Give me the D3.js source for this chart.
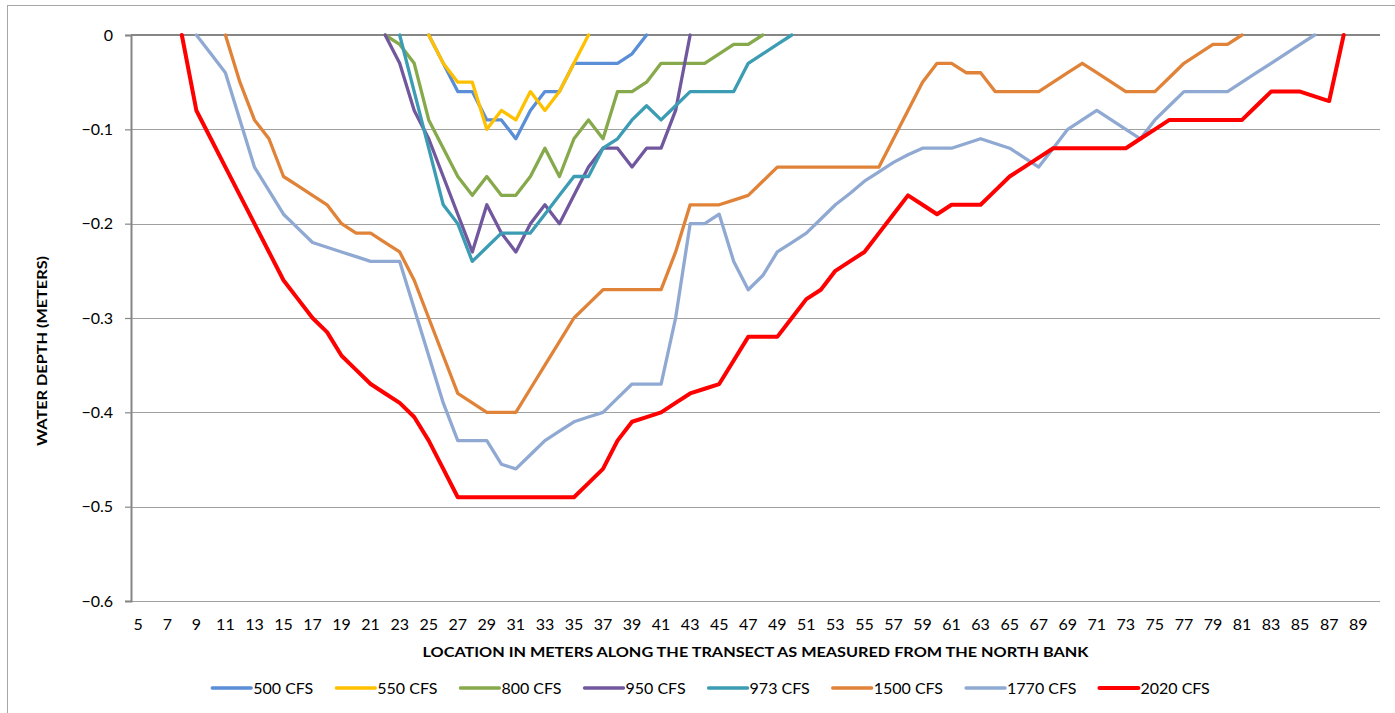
<!DOCTYPE html>
<html>
<head>
<meta charset="utf-8">
<script src="https://cdn.jsdelivr.net/npm/d3@7"></script>
<style>
  body { margin: 0; background: #fff; }
  svg { display: block; font-family: Lato, "Open Sans", sans-serif; }
</style>
</head>
<body>
<div id="chart"></div>
<script>
// transect positions (m) and the labelled ones
const meters = d3.range(5, 91);
const tickMeters = [5, 7, 9, 11, 13, 15, 17, 19, 21, 23, 25, 27, 29, 31, 33, 35, 37, 39, 41, 43, 45,
    47, 49, 51, 53, 55, 57, 59, 61, 63, 65, 67, 69, 71, 73, 75, 77, 79, 81, 83, 85, 87, 89];
const depthTicks = [0, -0.1, -0.2, -0.3, -0.4, -0.5, -0.6];

// each series: first meter + depths (m), one per meter
const start500 = 25;
const depth500 = [0, -0.03, -0.06, -0.06, -0.09, -0.09, -0.11, -0.08, -0.06, -0.06, -0.03, -0.03,
    -0.03, -0.03, -0.02, 0];

const start550 = 25;
const depth550 = [0, -0.03, -0.05, -0.05, -0.10, -0.08, -0.09, -0.06, -0.08, -0.06, -0.03, 0];

const start800 = 22;
const depth800 = [0, -0.01, -0.03, -0.09, -0.12, -0.15, -0.17, -0.15, -0.17, -0.17, -0.15, -0.12,
    -0.15, -0.11, -0.09, -0.11, -0.06, -0.06, -0.05, -0.03, -0.03, -0.03, -0.03, -0.02, -0.01, -0.01, 0];

const start950 = 22;
const depth950 = [0, -0.03, -0.08, -0.11, -0.15, -0.19, -0.23, -0.18, -0.21, -0.23, -0.20, -0.18,
    -0.20, -0.17, -0.14, -0.12, -0.12, -0.14, -0.12, -0.12, -0.08, 0];

const start973 = 23;
const depth973 = [0, -0.06, -0.12, -0.18, -0.20, -0.24, -0.225, -0.21, -0.21, -0.21, -0.19, -0.17,
    -0.15, -0.15, -0.12, -0.11, -0.09, -0.075, -0.09, -0.075, -0.06, -0.06, -0.06, -0.06, -0.03,
    -0.02, -0.01, 0];

const start1500 = 11;
const depth1500 = [0, -0.05, -0.09, -0.11, -0.15, -0.16, -0.17, -0.18, -0.20, -0.21, -0.21, -0.22,
    -0.23, -0.26, -0.30, -0.34, -0.38, -0.39, -0.40, -0.40, -0.40, -0.375, -0.35, -0.325, -0.30,
    -0.285, -0.27, -0.27, -0.27, -0.27, -0.27, -0.23, -0.18, -0.18, -0.18, -0.175, -0.17, -0.155,
    -0.14, -0.14, -0.14, -0.14, -0.14, -0.14, -0.14, -0.14, -0.11, -0.08, -0.05, -0.03, -0.03, -0.04,
    -0.04, -0.06, -0.06, -0.06, -0.06, -0.05, -0.04, -0.03, -0.04, -0.05, -0.06, -0.06, -0.06,
    -0.045, -0.03, -0.02, -0.01, -0.01, 0];

const start1770 = 9;
const depth1770 = [0, -0.02, -0.04, -0.09, -0.14, -0.165, -0.19, -0.205, -0.22, -0.225, -0.23,
    -0.235, -0.24, -0.24, -0.24, -0.29, -0.34, -0.39, -0.43, -0.43, -0.43, -0.455, -0.46, -0.445,
    -0.43, -0.42, -0.41, -0.405, -0.40, -0.385, -0.37, -0.37, -0.37, -0.30, -0.20, -0.20, -0.19,
    -0.24, -0.27, -0.255, -0.23, -0.22, -0.21, -0.195, -0.18, -0.168, -0.155, -0.145, -0.135, -0.127,
    -0.12, -0.12, -0.12, -0.115, -0.11, -0.115, -0.12, -0.13, -0.14, -0.12, -0.10, -0.09, -0.08,
    -0.09, -0.10, -0.11, -0.09, -0.075, -0.06, -0.06, -0.06, -0.06, -0.05, -0.04, -0.03, -0.02,
    -0.01, 0];

const start2020 = 8;
const depth2020 = [0, -0.08, -0.11, -0.14, -0.17, -0.20, -0.23, -0.26, -0.28, -0.30, -0.315, -0.34,
    -0.355, -0.37, -0.38, -0.39, -0.405, -0.43, -0.46, -0.49, -0.49, -0.49, -0.49, -0.49, -0.49,
    -0.49, -0.49, -0.49, -0.475, -0.46, -0.43, -0.41, -0.405, -0.40, -0.39, -0.38, -0.375, -0.37,
    -0.345, -0.32, -0.32, -0.32, -0.30, -0.28, -0.27, -0.25, -0.24, -0.23, -0.21, -0.19, -0.17,
    -0.18, -0.19, -0.18, -0.18, -0.18, -0.165, -0.15, -0.14, -0.13, -0.12, -0.12, -0.12, -0.12,
    -0.12, -0.12, -0.11, -0.10, -0.09, -0.09, -0.09, -0.09, -0.09, -0.09, -0.075, -0.06, -0.06,
    -0.06, -0.065, -0.07, 0];

const seriesNames = ["500 CFS", "550 CFS", "800 CFS", "950 CFS", "973 CFS", "1500 CFS", "1770 CFS", "2020 CFS"];
const seriesStarts = [start500, start550, start800, start950, start973, start1500, start1770, start2020];
const seriesDepths = [depth500, depth550, depth800, depth950, depth973, depth1500, depth1770, depth2020];
const seriesColors = ["#5A8FD7", "#FFC000", "#86A94B", "#71589E", "#3B9CB3", "#E08338", "#8FA9D2", "#FF0000"];

const W = 1395, H = 713;
const plot = {left: 131, right: 1380, top: 35, bottom: 601};

const svg = d3.select("#chart").append("svg")
    .attr("width", W)
    .attr("height", H);

// chart border
svg.append("rect")
    .attr("x", 7.5).attr("y", 5.5)
    .attr("width", W + 20).attr("height", H + 20)
    .attr("fill", "#fff")
    .attr("stroke", "#A6A6A6")
    .attr("stroke-width", 1);

const x = d3.scaleBand().domain(meters).range([plot.left, plot.right]).padding(0);
const xc = m => x(m) + x.bandwidth() / 2;
const y = d3.scaleLinear().domain([-0.6, 0]).range([plot.bottom, plot.top]);

// horizontal gridlines
svg.append("g")
    .selectAll("line")
    .data(depthTicks.filter(d => d !== 0))
    .enter()
    .append("line")
    .attr("x1", plot.left).attr("x2", plot.right)
    .attr("y1", d => Math.round(y(d)) + 0.5)
    .attr("y2", d => Math.round(y(d)) + 0.5)
    .attr("stroke", "#A0A0A0")
    .attr("stroke-width", 1.2);

// y axis with ticks
const yAxis = svg.append("g")
    .attr("transform", "translate(" + plot.left + ",0)")
    .call(d3.axisLeft(y).tickValues(depthTicks).tickSize(6).tickPadding(12)
        .tickFormat(d => d === 0 ? "0" : d3.format(".1f")(d)));
yAxis.select(".domain").attr("stroke", "#868686").attr("stroke-width", 2);
yAxis.selectAll(".tick line").attr("stroke", "#868686").attr("stroke-width", 1.2);
yAxis.selectAll("text")
    .attr("fill", "#000")
    .style("font-size", "16px")
    .style("font-family", "Lato, sans-serif");

// category axis sits at depth 0, labels shown at the bottom
svg.append("line")
    .attr("x1", plot.left).attr("x2", plot.right)
    .attr("y1", y(0)).attr("y2", y(0))
    .attr("stroke", "#868686")
    .attr("stroke-width", 2);

svg.append("g")
    .selectAll("text")
    .data(tickMeters)
    .enter()
    .append("text")
    .attr("x", d => xc(d))
    .attr("y", 630)
    .attr("text-anchor", "middle")
    .style("font-size", "16px")
    .attr("fill", "#000")
    .text(d => d);

// series lines
const line = d3.line()
    .x(d => xc(d.m))
    .y(d => y(d.v));

seriesNames.forEach((name, i) => {
    const pts = seriesDepths[i].map((v, j) => ({m: seriesStarts[i] + j, v: v}));
    svg.append("path")
        .datum(pts)
        .attr("d", line)
        .attr("fill", "none")
        .attr("stroke", seriesColors[i])
        .attr("stroke-width", name === "2020 CFS" ? 4 : 3.3)
        .attr("stroke-linejoin", "round")
        .attr("stroke-linecap", "round");
});

// axis titles
svg.append("text")
    .attr("x", (plot.left + plot.right) / 2)
    .attr("y", 657)
    .attr("text-anchor", "middle")
    .attr("textLength", 666)
    .attr("lengthAdjust", "spacingAndGlyphs")
    .style("font-size", "14px")
    .style("font-weight", "bold")
    .text("LOCATION IN METERS ALONG THE TRANSECT AS MEASURED FROM THE NORTH BANK");

svg.append("text")
    .attr("transform", "translate(47,351) rotate(-90)")
    .attr("text-anchor", "middle")
    .attr("textLength", 190)
    .attr("lengthAdjust", "spacingAndGlyphs")
    .style("font-size", "14px")
    .style("font-weight", "bold")
    .text("WATER DEPTH (METERS)");

// legend
const legend = svg.append("g");
const lineLen = 39, textGap = 2, itemGap = 23, legendY = 688;
const items = seriesNames.map((name, i) => {
    const g = legend.append("g");
    g.append("line")
        .attr("x1", 0).attr("x2", lineLen)
        .attr("y1", 0).attr("y2", 0)
        .attr("stroke", seriesColors[i])
        .attr("stroke-width", name === "2020 CFS" ? 4 : 3.3)
        .attr("stroke-linecap", "round");
    const t = g.append("text")
        .attr("x", lineLen + textGap)
        .attr("y", 6)
        .style("font-size", "16px")
        .attr("fill", "#000")
        .text(name);
    return {g: g, w: lineLen + textGap + t.node().getComputedTextLength()};
});
const total = d3.sum(items, d => d.w) + itemGap * (items.length - 1);
let cx = 711 - total / 2;
items.forEach(it => {
    it.g.attr("transform", "translate(" + cx + "," + legendY + ")");
    cx += it.w + itemGap;
});
</script>
</body>
</html>
